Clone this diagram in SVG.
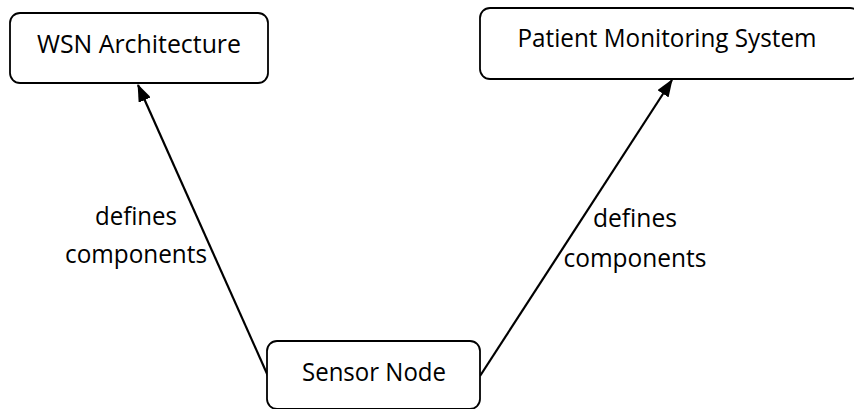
<svg xmlns="http://www.w3.org/2000/svg" width="854" height="409" viewBox="0 0 854 409">
  <style>
    .box { fill: #ffffff; stroke: #000000; stroke-width: 1.8; }
    .label { font-family: "Open Sans", "Liberation Sans", Arial, sans-serif; font-size: 25px; fill: #000000; text-anchor: middle; }
    .edge { stroke: #000000; stroke-width: 2.2; fill: none; marker-end: url(#arrow); }
  </style>
  <defs>
    <marker id="arrow" markerWidth="8" markerHeight="6" refX="7.5" refY="3" orient="auto" markerUnits="strokeWidth">
      <path d="M0,0 L8,3 L0,6 Z" fill="#000000"/>
    </marker>
  </defs>
  <rect width="854" height="409" fill="#ffffff"/>

  <g id="connectors">
    <line class="edge" x1="268" y1="376" x2="138" y2="85"/>
    <line class="edge" x1="480" y1="376" x2="672" y2="80"/>
    <text class="label" x="136" y="225" textLength="82" lengthAdjust="spacingAndGlyphs">defines</text>
    <text class="label" x="136" y="263" textLength="142" lengthAdjust="spacingAndGlyphs">components</text>
    <text class="label" x="635" y="227" textLength="84" lengthAdjust="spacingAndGlyphs">defines</text>
    <text class="label" x="635" y="267" textLength="143" lengthAdjust="spacingAndGlyphs">components</text>
  </g>

  <g id="wsn-architecture">
    <rect class="box" x="10" y="13" width="258" height="70" rx="10"/>
    <text class="label" x="139" y="53" textLength="204" lengthAdjust="spacingAndGlyphs">WSN Architecture</text>
  </g>

  <g id="patient-monitoring-system">
    <rect class="box" x="480" y="8" width="380" height="71" rx="10"/>
    <text class="label" x="667" y="47" textLength="299" lengthAdjust="spacingAndGlyphs">Patient Monitoring System</text>
  </g>

  <g id="sensor-node">
    <rect class="box" x="267" y="341" width="213" height="68" rx="10"/>
    <text class="label" x="374" y="381" textLength="144" lengthAdjust="spacingAndGlyphs">Sensor Node</text>
  </g>
</svg>
